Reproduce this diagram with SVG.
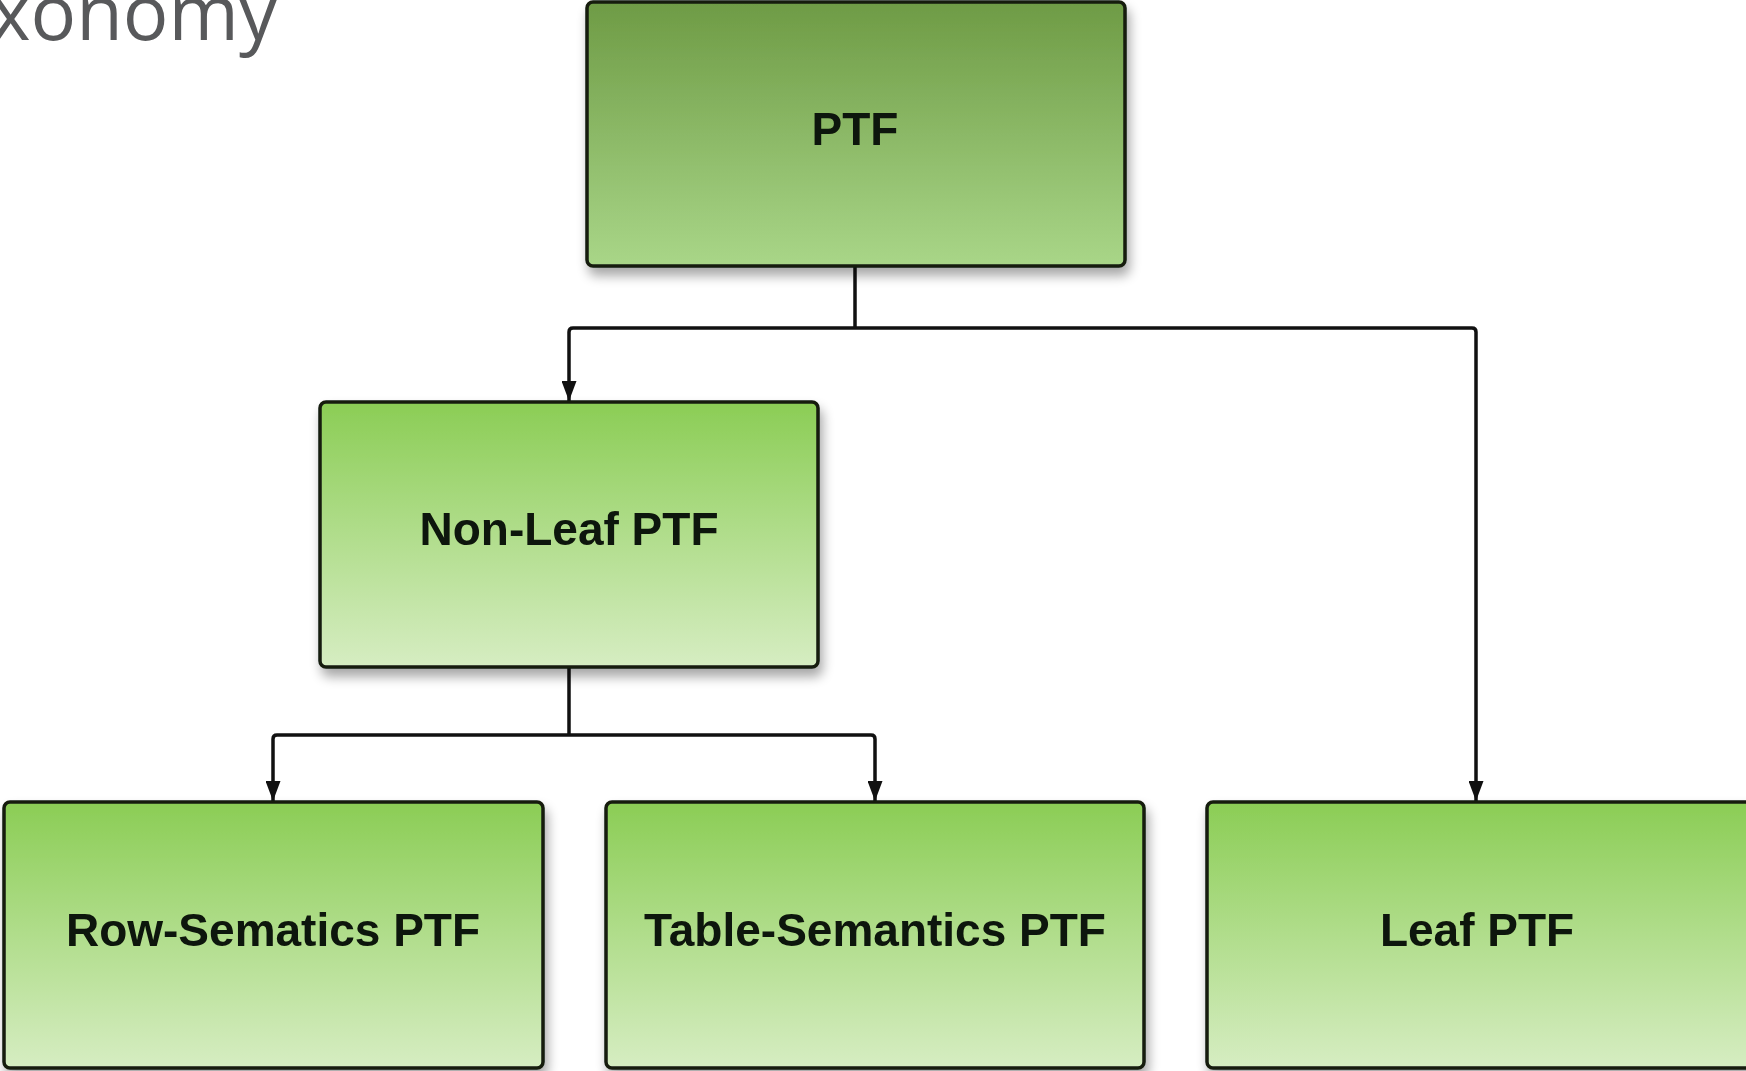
<svg xmlns="http://www.w3.org/2000/svg" width="1746" height="1071" viewBox="0 0 1746 1071">
  <style>
    .box { stroke: #141a10; stroke-width: 3.5; }
    .label { font-family: "Liberation Sans", Arial, sans-serif; font-weight: bold; font-size: 46px; fill: #0d1408; text-anchor: middle; }
    .title { font-family: "Open Sans", "Liberation Sans", sans-serif; font-size: 76px; fill: #58595b; }
    .link { fill: none; stroke: #111; stroke-width: 3.5; stroke-linejoin: round; }
  </style>
  <defs>
    <linearGradient id="gRoot" x1="0" y1="0" x2="0" y2="1">
      <stop offset="0" stop-color="#6e9b45"/>
      <stop offset="1" stop-color="#a9d688"/>
    </linearGradient>
    <linearGradient id="gNode" x1="0" y1="0" x2="0" y2="1">
      <stop offset="0" stop-color="#8bcd55"/>
      <stop offset="1" stop-color="#d6edc2"/>
    </linearGradient>
    <filter id="shadow" x="-10%" y="-10%" width="125%" height="130%">
      <feGaussianBlur in="SourceAlpha" stdDeviation="6"/>
      <feOffset dx="3" dy="8" result="b"/>
      <feComponentTransfer><feFuncA type="linear" slope="0.35"/></feComponentTransfer>
      <feMerge><feMergeNode/><feMergeNode in="SourceGraphic"/></feMerge>
    </filter>
    <!-- arrowhead drawn along +x so orient="auto" points it along the line -->
    <marker id="arrow" viewBox="0 0 20 15" refX="20" refY="7.5" markerWidth="20" markerHeight="15" markerUnits="userSpaceOnUse" orient="auto">
      <path d="M0,0 L20,7.5 L0,15 Z" fill="#111"/>
    </marker>
  </defs>

  <rect width="1746" height="1071" fill="#ffffff"/>

  <!-- heading, clipped at the left edge -->
  <text class="title" x="277" y="40" text-anchor="end">xonomy</text>

  <g id="connectors">
    <path class="link" d="M855,267 V328 M855,328 H573 Q569,328 569,332 V401" marker-end="url(#arrow)"/>
    <path class="link" d="M855,328 H1472 Q1476,328 1476,332 V801" marker-end="url(#arrow)"/>
    <path class="link" d="M569,668 V735 M569,735 H277 Q273,735 273,739 V801" marker-end="url(#arrow)"/>
    <path class="link" d="M569,735 H871 Q875,735 875,739 V801" marker-end="url(#arrow)"/>
  </g>

  <g id="node-ptf" filter="url(#shadow)">
    <rect class="box" x="587" y="2" width="538" height="264" rx="6" fill="url(#gRoot)"/>
    <text class="label" x="855" y="145">PTF</text>
  </g>

  <g id="node-nonleaf" filter="url(#shadow)">
    <rect class="box" x="320" y="402" width="498" height="265" rx="6" fill="url(#gNode)"/>
    <text class="label" x="569" y="545">Non-Leaf PTF</text>
  </g>

  <g id="node-row" filter="url(#shadow)">
    <rect class="box" x="4" y="802" width="539" height="266" rx="6" fill="url(#gNode)"/>
    <text class="label" x="273" y="946">Row-Sematics PTF</text>
  </g>

  <g id="node-table" filter="url(#shadow)">
    <rect class="box" x="606" y="802" width="538" height="266" rx="6" fill="url(#gNode)"/>
    <text class="label" x="875" y="946">Table-Semantics PTF</text>
  </g>

  <g id="node-leaf" filter="url(#shadow)">
    <rect class="box" x="1207" y="802" width="548" height="266" rx="6" fill="url(#gNode)"/>
    <text class="label" x="1477" y="946">Leaf PTF</text>
  </g>
</svg>
